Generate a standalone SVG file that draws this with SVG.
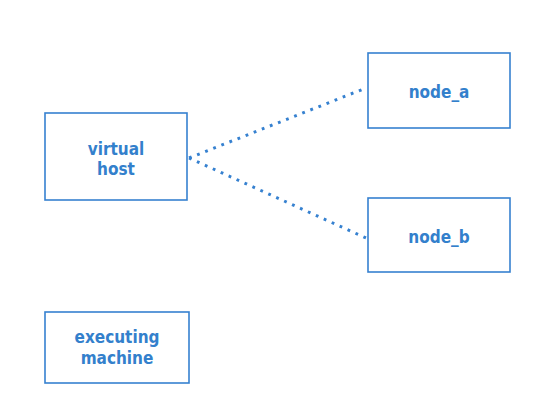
<svg xmlns="http://www.w3.org/2000/svg" width="556" height="420" viewBox="0 0 556 420">
<style>
.box{fill:#ffffff;stroke:#3681d0;stroke-width:1.6}
.lbl{font-family:"DejaVu Sans Condensed","DejaVu Sans",sans-serif;font-weight:bold;font-size:17px;fill:#3380cc;text-anchor:middle}
.conn{fill:none;stroke:#3681d0;stroke-width:3;stroke-dasharray:2.8 5.9}
</style>
<rect width="556" height="420" fill="#ffffff"/>
<g id="connectors">
<line class="conn" x1="189" y1="158" x2="366" y2="88"/>
<line class="conn" x1="189" y1="158" x2="366" y2="238"/>
</g>
<g id="virtual_host">
<rect class="box" x="45" y="113" width="142" height="87"/>
<text class="lbl" x="116" y="155">virtual</text>
<text class="lbl" x="116" y="175">host</text>
</g>
<g id="node_a">
<rect class="box" x="368" y="53" width="142" height="75"/>
<text class="lbl" x="439" y="98">node_a</text>
</g>
<g id="node_b">
<rect class="box" x="368" y="198" width="142" height="74"/>
<text class="lbl" x="439" y="243">node_b</text>
</g>
<g id="executing_machine">
<rect class="box" x="45" y="312" width="144" height="71"/>
<text class="lbl" x="117" y="343">executing</text>
<text class="lbl" x="117" y="364">machine</text>
</g>
</svg>
